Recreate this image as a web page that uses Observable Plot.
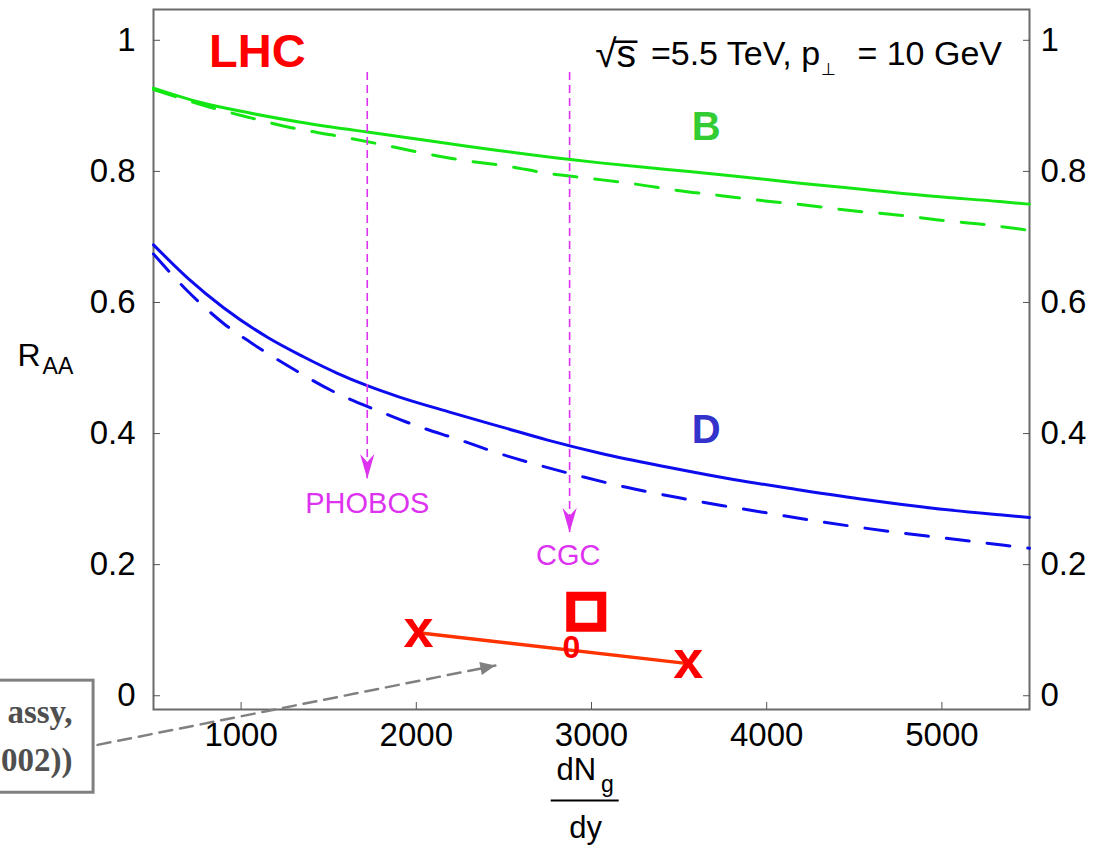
<!DOCTYPE html>
<html>
<head>
<meta charset="utf-8">
<script src="https://cdn.jsdelivr.net/npm/d3@7"></script>
<script src="https://cdn.jsdelivr.net/npm/@observablehq/plot@0.6"></script>
<style>
  body { margin: 0; background: #fff; }
  #chart svg { display: block; }
</style>
</head>
<body>
<div id="chart"></div>
<script>
// ---- axis ticks ----
const xTicks = [1000, 2000, 3000, 4000, 5000];
const yTicks = [0, 0.2, 0.4, 0.6, 0.8, 1];

// ---- B (green) curves ----
const bSolidX = [500, 770, 1050, 1340, 1720, 1910, 2300, 2880, 3050, 3430, 3810, 4190, 4570, 4950, 5330, 5500];
const bSolidY = [0.927, 0.905, 0.889, 0.875, 0.860, 0.853, 0.838, 0.818, 0.813, 0.803, 0.793, 0.782, 0.772, 0.762, 0.754, 0.750];
const bDashX = [500, 770, 1050, 1280, 1530, 1765, 2000, 2240, 2520, 2750, 3000, 3240, 3490, 3740, 3990, 4240, 4490, 4730, 4980, 5240, 5500];
const bDashY = [0.925, 0.902, 0.882, 0.867, 0.855, 0.843, 0.830, 0.818, 0.808, 0.797, 0.789, 0.781, 0.771, 0.763, 0.755, 0.748, 0.740, 0.734, 0.726, 0.719, 0.710];

// ---- D (blue) curves ----
const dSolidX = [500, 700, 900, 1150, 1350, 1550, 1720, 1900, 2200, 2500, 2750, 3050, 3430, 3810, 4190, 4570, 4950, 5330, 5500];
const dSolidY = [0.688, 0.636, 0.592, 0.547, 0.518, 0.492, 0.473, 0.456, 0.432, 0.409, 0.390, 0.370, 0.349, 0.330, 0.314, 0.299, 0.286, 0.276, 0.272];
const dDashX = [500, 700, 900, 1100, 1300, 1550, 1780, 2000, 2240, 2480, 2710, 2950, 3200, 3500, 3750, 4000, 4250, 4500, 4750, 5000, 5250, 5500];
const dDashY = [0.674, 0.616, 0.568, 0.531, 0.498, 0.461, 0.435, 0.412, 0.391, 0.369, 0.351, 0.334, 0.318, 0.302, 0.290, 0.279, 0.268, 0.258, 0.249, 0.241, 0.233, 0.225];

// ---- multiplicity estimates (magenta arrows) ----
const estLabels = ["PHOBOS", "CGC"];
const estX = [1720, 2875];
const estTop = [0.951, 0.951];
const estTip = [0.331, 0.249];
const estLabelX = [1720, 2867];
const estLabelY = [0.293, 0.214];

// ---- red data (x markers + line, square, "0") ----
const redX = [2012, 3552];
const redY = [0.096, 0.049];
const squareX = [2970];
const squareY = [0.128];
const zeroX = [2885];
const zeroY = [0.073];

// ---- gray reference arrow + box ----
const refArrowX = [181, 2451];
const refArrowY = [-0.075, 0.046];
const boxX = [-400, 158];
const boxY = [0.023, -0.148];
const boxLines = ["assy,", "002))"];
const boxLineY = [-0.025, -0.098];

// ---- labels ----
const curveLabels = ["B", "D"];
const curveLabelX = [3655, 3655];
const curveLabelY = [0.867, 0.405];

const toPts = (xs, ys) => xs.map((x, i) => ({x, y: ys[i]}));

const GREEN = "#14e614";
const BLUE = "#0c0cee";
const MAGENTA = "#dd33f0";
const RED = "#ff0000";
const GRAY = "#808080";
const FONT = "'Liberation Sans', Arial, sans-serif";

// custom arrowhead symbol, tip at origin pointing up (-y)
const notchedHead = {
  draw(ctx, size) {
    const r = Math.sqrt(size / Math.PI);
    ctx.moveTo(0, 0);
    ctx.lineTo(-0.55 * r, 1.9 * r);
    ctx.lineTo(0, 1.3 * r);
    ctx.lineTo(0.55 * r, 1.9 * r);
    ctx.closePath();
  }
};
const solidHead = {
  draw(ctx, size) {
    const r = Math.sqrt(size / Math.PI);
    ctx.moveTo(0, 0);
    ctx.lineTo(-0.55 * r, 1.25 * r);
    ctx.lineTo(0.55 * r, 1.25 * r);
    ctx.closePath();
  }
};

const estData = estLabels.map((l, i) => ({label: l, x: estX[i], top: estTop[i], tip: estTip[i], lx: estLabelX[i], ly: estLabelY[i]}));

const chart = Plot.plot({
  width: 1096,
  height: 845,
  marginLeft: 153,
  marginRight: 67,
  marginTop: 9,
  marginBottom: 136,
  x: {domain: [500, 5500]},
  y: {domain: [-0.021, 1.047]},
  style: {fontFamily: FONT, background: "#fff", color: "#000"},
  marks: [
    // reference box (outside frame, left-bottom)
    Plot.rect([{x1: boxX[0], x2: boxX[1], y1: boxY[0], y2: boxY[1]}], {x1: "x1", x2: "x2", y1: "y1", y2: "y2", fill: "#fff", stroke: GRAY, strokeWidth: 3}),
    Plot.text(boxLines, {x: 38, y: (d, i) => boxLineY[i], text: d => d, textAnchor: "end", fontSize: 33, fontWeight: "bold", fontFamily: "'Liberation Serif', 'Times New Roman', serif", fill: "#4f4f4f"}),

    Plot.frame({stroke: "#6a6a6a", strokeWidth: 2}),
    Plot.axisX(xTicks, {anchor: "bottom", tickSize: -7, tickPadding: 20, fontSize: 33, stroke: "#555", tickFormat: d => String(d), label: null}),
    Plot.axisY(yTicks, {anchor: "left", tickSize: -7, tickPadding: 25, fontSize: 33, stroke: "#555", tickFormat: d => String(d), label: null}),
    Plot.axisY(yTicks, {anchor: "right", tickSize: -7, tickPadding: 18, fontSize: 33, stroke: "#555", tickFormat: d => String(d), label: null}),

    // curves
    Plot.line(toPts(bSolidX, bSolidY), {x: "x", y: "y", stroke: GREEN, strokeWidth: 3, curve: "monotone-x"}),
    Plot.line(toPts(bDashX, bDashY), {x: "x", y: "y", stroke: GREEN, strokeWidth: 3, strokeDasharray: "23,18", curve: "monotone-x"}),
    Plot.line(toPts(dSolidX, dSolidY), {x: "x", y: "y", stroke: BLUE, strokeWidth: 3, curve: "monotone-x"}),
    Plot.line(toPts(dDashX, dDashY), {x: "x", y: "y", stroke: BLUE, strokeWidth: 3, strokeDasharray: "23,18", curve: "monotone-x"}),

    // magenta estimate arrows
    Plot.ruleX(estData, {x: "x", y1: "top", y2: "tip", stroke: MAGENTA, strokeWidth: 1.6, strokeDasharray: "8,5"}),
    Plot.dot(estData, {x: "x", y: "tip", symbol: notchedHead, r: 13, rotate: 180, fill: MAGENTA, stroke: "none"}),
    Plot.text(estData, {x: "lx", y: "ly", text: "label", fill: MAGENTA, fontSize: 29}),

    // red points
    Plot.line(toPts(redX, redY), {x: "x", y: "y", stroke: "#ff3300", strokeWidth: 3.5}),
    Plot.text(toPts(redX, redY), {x: "x", y: "y", text: () => "x", fill: RED, fontSize: 54, fontWeight: "bold", dy: -3}),
    Plot.dot(toPts(squareX, squareY), {x: "x", y: "y", symbol: "square", r: 17.5, stroke: RED, strokeWidth: 9, fill: "none"}),
    Plot.text(toPts(zeroX, zeroY), {x: "x", y: "y", text: () => "0", fill: RED, fontSize: 32, fontWeight: "bold"}),

    // gray reference arrow
    Plot.line(toPts(refArrowX, refArrowY), {x: "x", y: "y", stroke: GRAY, strokeWidth: 2.5, strokeDasharray: "13,8"}),
    Plot.dot([{x: refArrowX[1], y: refArrowY[1]}], {x: "x", y: "y", symbol: solidHead, r: 12, rotate: 79, fill: GRAY, stroke: "none"}),

    // labels
    Plot.text(["LHC"], {x: 1093, y: 0.982, text: d => d, fill: RED, fontSize: 47, fontWeight: "bold"}),
    Plot.text(curveLabels, {x: (d, i) => curveLabelX[i], y: (d, i) => curveLabelY[i], text: d => d, fill: (d, i) => i === 0 ? "#33cc33" : "#3333cc", fontSize: 40, fontWeight: "bold"}),
    Plot.text(["\u221As\u0305"], {x: 3021, y: 0.979, text: d => d, textAnchor: "start", fontSize: 39}),
    Plot.text(["=5.5 TeV, p"], {x: 4305, y: 0.979, text: d => d, textAnchor: "end", fontSize: 34}),
    Plot.text(["\u22A5"], {x: 4351, y: 0.955, text: d => d, fontSize: 17}),
    Plot.text(["= 10 GeV"], {x: 5343, y: 0.979, text: d => d, textAnchor: "end", fontSize: 34}),

    // y label R_AA
    Plot.text(["R"], {x: -276, y: 0.518, text: d => d, textAnchor: "start", fontSize: 32}),
    Plot.text(["AA"], {x: -133, y: 0.502, text: d => d, textAnchor: "start", fontSize: 23}),

    // x label dN_g / dy
    Plot.text(["dN"], {x: 2913, y: -0.114, text: d => d, fontSize: 31}),
    Plot.text(["g"], {x: 3090, y: -0.135, text: d => d, fontSize: 23}),
    Plot.ruleY([-0.160], {x1: 2770, x2: 3158, stroke: "#000", strokeWidth: 2}),
    Plot.text(["dy"], {x: 2967, y: -0.202, text: d => d, fontSize: 31})
  ]
});

document.getElementById("chart").appendChild(chart);
</script>
</body>
</html>
